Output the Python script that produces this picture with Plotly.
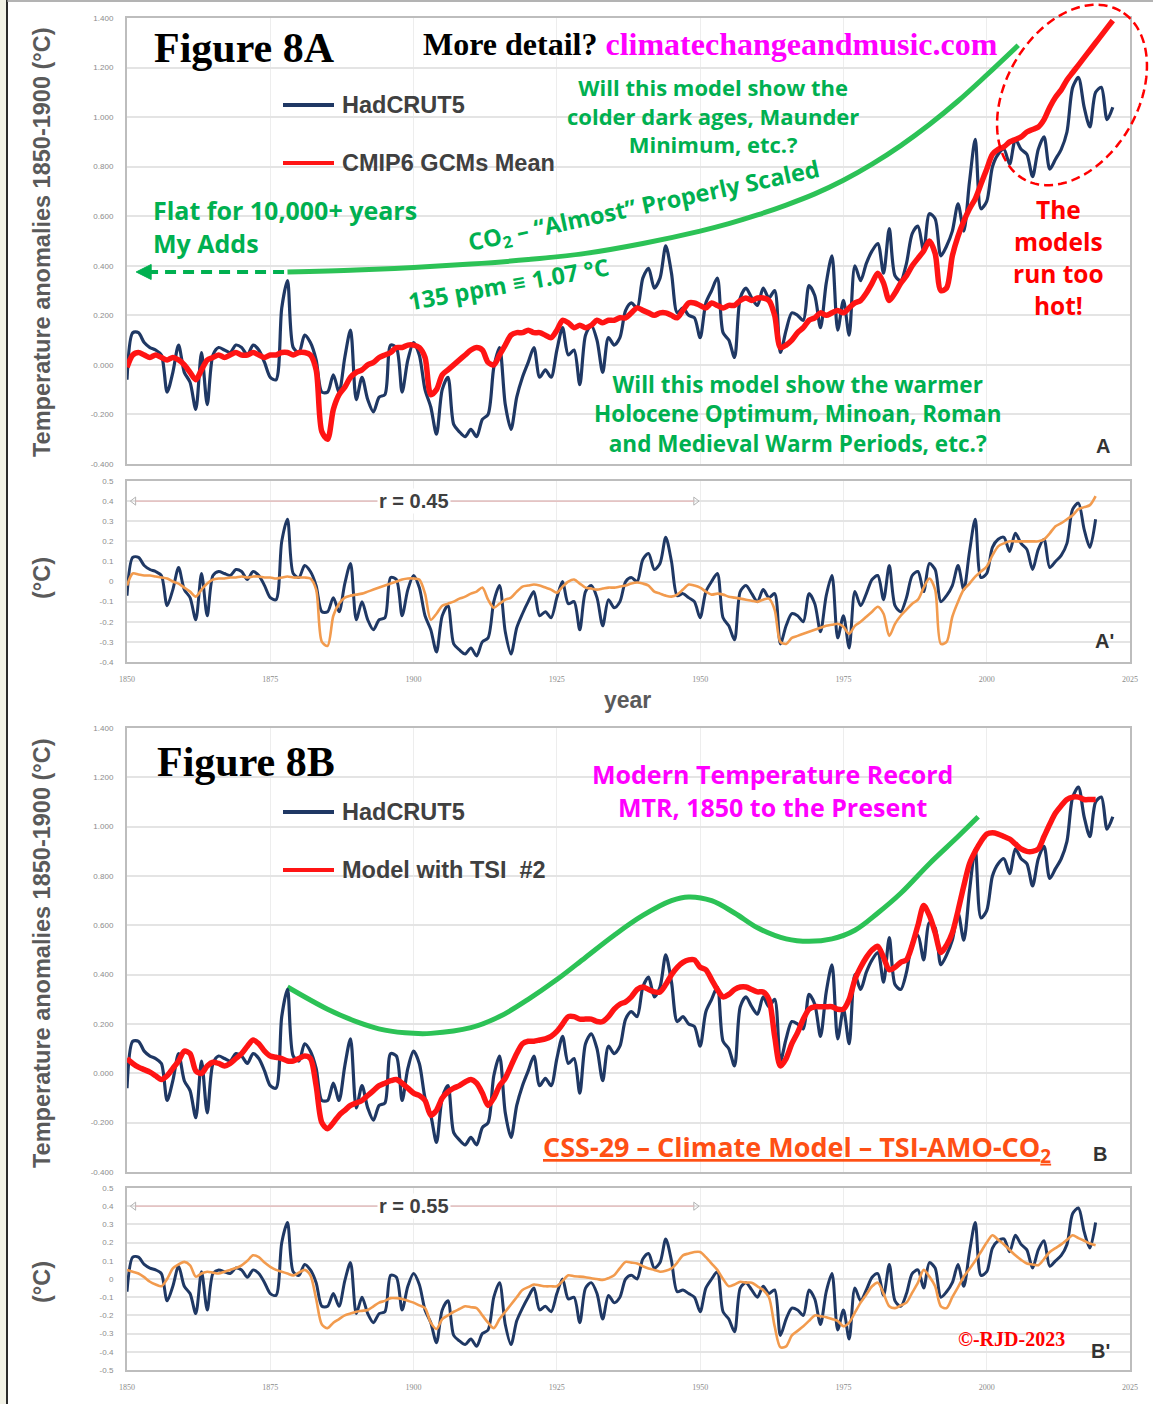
import numpy as np
import plotly.graph_objects as go

# ---------------- data ----------------
years = list(range(1850, 2023))

# HadCRUT5 annual anomalies, relative to 1850-1900 (deg C), 1850-2022
hadcrut5 = [
    -0.06, 0.13, 0.13, 0.09, 0.07, 0.06, 0.04, -0.11, -0.03, 0.08,
    -0.03, -0.07, -0.18, 0.05, -0.16, 0.04, 0.07, 0.06, 0.05, 0.08,
    0.07, 0.04, 0.08, 0.06, 0.01, -0.05, -0.06, 0.23, 0.34, 0.07,
    0.05, 0.12, 0.09, 0.02, -0.11, -0.11, -0.04, -0.11, 0.03, 0.14,
    -0.14, -0.05, -0.14, -0.19, -0.13, -0.12, 0.08, 0.07, -0.11, 0.02,
    0.09, 0.04, -0.10, -0.17, -0.28, -0.10, -0.05, -0.24, -0.27, -0.29,
    -0.26, -0.29, -0.22, -0.20, -0.01, 0.07, -0.16, -0.26, -0.13, -0.05,
    0.01, 0.07, -0.05, -0.02, -0.05, 0.06, 0.15, 0.04, 0.06, -0.08,
    0.12, 0.16, 0.10, -0.03, 0.11, 0.08, 0.11, 0.22, 0.25, 0.23,
    0.35, 0.39, 0.31, 0.35, 0.48, 0.37, 0.21, 0.23, 0.20, 0.19,
    0.11, 0.25, 0.30, 0.35, 0.13, 0.10, 0.03, 0.27, 0.31, 0.27,
    0.24, 0.31, 0.27, 0.30, 0.05, 0.14, 0.21, 0.20, 0.18, 0.32,
    0.28, 0.15, 0.33, 0.44, 0.14, 0.26, 0.12, 0.40, 0.34, 0.41,
    0.46, 0.49, 0.37, 0.55, 0.36, 0.34, 0.41, 0.53, 0.56, 0.46,
    0.61, 0.59, 0.44, 0.48, 0.54, 0.65, 0.54, 0.74, 0.91, 0.63,
    0.66, 0.80, 0.85, 0.87, 0.81, 0.91, 0.87, 0.85, 0.76, 0.87,
    0.92, 0.79, 0.83, 0.87, 0.94, 1.12, 1.16, 1.04, 0.96, 1.10,
    1.12, 0.99, 1.04,
]

# CMIP6 GCMs multi-model mean, 1850-2022
cmip6_mean = [
    -0.01, 0.04, 0.05, 0.04, 0.03, 0.04, 0.03, 0.02, 0.03, 0.02,
    0.00, -0.03, -0.06, -0.02, 0.02, 0.03, 0.04, 0.03, 0.04, 0.05,
    0.04, 0.04, 0.05, 0.04, 0.03, 0.04, 0.04, 0.05, 0.05, 0.04,
    0.05, 0.05, 0.04, -0.02, -0.27, -0.30, -0.18, -0.12, -0.09, -0.05,
    -0.03, -0.02, 0.00, 0.01, 0.03, 0.04, 0.05, 0.07, 0.07, 0.08,
    0.08, 0.07, 0.03, -0.12, -0.10, -0.04, -0.02, 0.00, 0.02, 0.04,
    0.06, 0.07, 0.06, 0.01, 0.00, 0.04, 0.08, 0.12, 0.13, 0.13,
    0.14, 0.13, 0.13, 0.12, 0.11, 0.14, 0.18, 0.17, 0.15, 0.16,
    0.15, 0.16, 0.18, 0.17, 0.18, 0.18, 0.19, 0.19, 0.21, 0.23,
    0.22, 0.21, 0.20, 0.21, 0.21, 0.20, 0.19, 0.22, 0.25, 0.25,
    0.24, 0.23, 0.25, 0.24, 0.23, 0.24, 0.24, 0.26, 0.27, 0.26,
    0.27, 0.27, 0.26, 0.20, 0.07, 0.08, 0.10, 0.13, 0.15, 0.18,
    0.19, 0.21, 0.20, 0.21, 0.22, 0.21, 0.23, 0.25, 0.26, 0.29,
    0.33, 0.37, 0.33, 0.26, 0.29, 0.33, 0.36, 0.40, 0.43, 0.46,
    0.50, 0.45, 0.30, 0.31, 0.44, 0.52, 0.58, 0.63, 0.67, 0.73,
    0.79, 0.85, 0.87, 0.88, 0.90, 0.91, 0.92, 0.94, 0.95, 0.96,
    0.99, 1.04, 1.08, 1.11, 1.15, 1.18, 1.21, 1.24, 1.27, 1.30,
    1.33, 1.36, 1.39,
]

# Model with TSI #2 (CSS-29: TSI-AMO-CO2), 1850-2019
model_tsi2 = [
    0.06, 0.04, 0.025, 0.015, 0.005, -0.01, -0.025, -0.01, 0.02, 0.05,
    0.09, 0.08, 0.01, 0.00, 0.03, 0.045, 0.04, 0.03, 0.04, 0.06,
    0.08, 0.11, 0.135, 0.12, 0.09, 0.07, 0.065, 0.06, 0.05, 0.05,
    0.06, 0.07, 0.06, -0.05, -0.20, -0.225, -0.20, -0.17, -0.15, -0.13,
    -0.12, -0.11, -0.09, -0.07, -0.05, -0.04, -0.03, -0.025, -0.04, -0.06,
    -0.08, -0.09, -0.11, -0.17, -0.15, -0.10, -0.075, -0.06, -0.05, -0.035,
    -0.025, -0.04, -0.08, -0.13, -0.10, -0.05, -0.02, 0.03, 0.08, 0.12,
    0.13, 0.13, 0.135, 0.14, 0.15, 0.17, 0.20, 0.23, 0.23, 0.22,
    0.22, 0.22, 0.21, 0.21, 0.23, 0.26, 0.28, 0.29, 0.31, 0.34,
    0.35, 0.34, 0.33, 0.33, 0.36, 0.40, 0.43, 0.45, 0.46, 0.46,
    0.43, 0.42, 0.38, 0.34, 0.31, 0.32, 0.34, 0.35, 0.35, 0.34,
    0.33, 0.33, 0.30, 0.15, 0.03, 0.06, 0.12, 0.165, 0.22, 0.26,
    0.27, 0.27, 0.27, 0.27, 0.26, 0.26, 0.30, 0.38, 0.43, 0.47,
    0.50, 0.515, 0.47, 0.42, 0.43, 0.45, 0.46, 0.52, 0.60, 0.68,
    0.64, 0.57, 0.49, 0.52, 0.57, 0.66, 0.76, 0.85, 0.90, 0.94,
    0.97, 0.975, 0.97, 0.96, 0.95, 0.93, 0.91, 0.90, 0.90, 0.91,
    0.96, 1.01, 1.055, 1.085, 1.11, 1.12, 1.12, 1.11, 1.11, 1.11,
]

# Detrended residuals used for the correlation panels, 1850-2019
hadcrut5_resid = [
    -0.07, 0.12, 0.12, 0.08, 0.06, 0.05, 0.03, -0.12, -0.04, 0.07,
    -0.04, -0.08, -0.19, 0.04, -0.17, 0.03, 0.05, 0.04, 0.03, 0.06,
    0.05, 0.01, 0.05, 0.03, -0.02, -0.08, -0.09, 0.20, 0.31, 0.04,
    0.02, 0.08, 0.05, -0.02, -0.15, -0.15, -0.08, -0.15, -0.01, 0.09,
    -0.19, -0.10, -0.19, -0.24, -0.19, -0.18, 0.02, 0.01, -0.17, -0.04,
    0.03, -0.03, -0.17, -0.24, -0.35, -0.17, -0.12, -0.31, -0.34, -0.36,
    -0.33, -0.37, -0.30, -0.28, -0.10, -0.02, -0.25, -0.36, -0.23, -0.16,
    -0.10, -0.05, -0.17, -0.15, -0.18, -0.08, 0.00, -0.11, -0.10, -0.24,
    -0.05, -0.02, -0.08, -0.22, -0.09, -0.13, -0.10, 0.00, 0.02, 0.00,
    0.11, 0.14, 0.06, 0.09, 0.22, 0.10, -0.07, -0.06, -0.08, -0.10,
    -0.18, -0.05, 0.00, 0.04, -0.18, -0.22, -0.29, -0.05, -0.02, -0.06,
    -0.10, -0.04, -0.08, -0.06, -0.31, -0.22, -0.16, -0.17, -0.20, -0.06,
    -0.11, -0.25, -0.07, 0.03, -0.28, -0.17, -0.33, -0.05, -0.12, -0.06,
    0.01, 0.03, -0.09, 0.08, -0.12, -0.15, -0.08, 0.03, 0.05, -0.05,
    0.09, 0.06, -0.10, -0.07, -0.02, 0.08, -0.04, 0.15, 0.31, 0.02,
    0.04, 0.17, 0.21, 0.22, 0.15, 0.24, 0.19, 0.16, 0.06, 0.16,
    0.21, 0.07, 0.10, 0.13, 0.19, 0.36, 0.39, 0.26, 0.17, 0.31,
]

cmip6_resid = [
    -0.02, 0.04, 0.035, 0.03, 0.03, 0.025, 0.02, 0.015, 0.00, -0.01,
    -0.03, -0.05, -0.075, -0.04, -0.01, 0.01, 0.015, 0.015, 0.02, 0.02,
    0.025, 0.02, 0.025, 0.025, 0.02, 0.02, 0.015, 0.02, 0.025, 0.02,
    0.02, 0.02, 0.015, -0.04, -0.30, -0.32, -0.17, -0.11, -0.08, -0.07,
    -0.065, -0.06, -0.05, -0.04, -0.03, -0.02, -0.01, 0.00, 0.01, 0.015,
    0.015, 0.01, -0.06, -0.19, -0.16, -0.12, -0.11, -0.10, -0.085, -0.075,
    -0.06, -0.05, -0.03, -0.09, -0.13, -0.11, -0.09, -0.08, -0.05, -0.025,
    -0.02, -0.015, -0.02, -0.03, -0.04, -0.055, -0.025, 0.00, 0.01, -0.01,
    -0.03, -0.035, -0.04, -0.035, -0.03, -0.03, -0.025, -0.02, -0.01, -0.005,
    -0.01, -0.02, -0.05, -0.06, -0.07, -0.075, -0.065, -0.04, -0.015, -0.02,
    -0.03, -0.05, -0.065, -0.06, -0.065, -0.075, -0.08, -0.085, -0.09, -0.095,
    -0.10, -0.09, -0.085, -0.14, -0.30, -0.31, -0.28, -0.27, -0.26, -0.25,
    -0.24, -0.23, -0.22, -0.215, -0.21, -0.225, -0.26, -0.22, -0.20, -0.175,
    -0.15, -0.125, -0.16, -0.27, -0.21, -0.17, -0.14, -0.11, -0.09, -0.03,
    0.015, -0.04, -0.31, -0.30, -0.175, -0.10, -0.04, -0.01, 0.025, 0.05,
    0.075, 0.13, 0.175, 0.19, 0.20, 0.20, 0.20, 0.20, 0.20, 0.20,
    0.21, 0.24, 0.275, 0.29, 0.31, 0.33, 0.36, 0.37, 0.38, 0.425,
]

model_tsi2_resid = [
    0.05, 0.04, 0.03, 0.01, -0.015, -0.03, -0.04, 0.00, 0.058, 0.08,
    0.094, 0.075, 0.013, 0.03, 0.04, 0.035, 0.03, 0.04, 0.05, 0.06,
    0.075, 0.10, 0.13, 0.12, 0.09, 0.067, 0.05, 0.04, 0.03, 0.02,
    0.035, 0.05, 0.02, -0.11, -0.25, -0.27, -0.24, -0.22, -0.20, -0.19,
    -0.18, -0.175, -0.17, -0.15, -0.13, -0.12, -0.105, -0.105, -0.11, -0.12,
    -0.13, -0.145, -0.16, -0.24, -0.275, -0.22, -0.20, -0.18, -0.165, -0.15,
    -0.155, -0.16, -0.20, -0.24, -0.27, -0.22, -0.18, -0.14, -0.10, -0.06,
    -0.045, -0.03, -0.035, -0.04, -0.04, -0.04, -0.01, 0.02, 0.015, 0.013,
    0.01, 0.004, 0.00, -0.005, 0.005, 0.02, 0.06, 0.094, 0.09, 0.085,
    0.07, 0.058, 0.05, 0.04, 0.045, 0.058, 0.09, 0.13, 0.14, 0.148,
    0.148, 0.12, 0.085, 0.05, 0.00, -0.04, -0.03, -0.015, -0.02, -0.02,
    -0.04, -0.06, -0.10, -0.26, -0.375, -0.37, -0.31, -0.285, -0.26, -0.23,
    -0.20, -0.205, -0.21, -0.22, -0.23, -0.26, -0.24, -0.185, -0.13, -0.085,
    -0.04, -0.02, -0.08, -0.15, -0.16, -0.145, -0.13, -0.075, -0.02, 0.05,
    0.013, -0.04, -0.15, -0.16, -0.10, -0.045, 0.013, 0.055, 0.10, 0.15,
    0.20, 0.24, 0.215, 0.19, 0.16, 0.13, 0.105, 0.085, 0.08, 0.076,
    0.11, 0.148, 0.17, 0.19, 0.215, 0.24, 0.225, 0.21, 0.195, 0.185,
]

# Hand-drawn overlay curves
co2_years = [1878, 1890, 1900, 1910, 1920, 1930, 1940, 1950, 1955, 1960,
             1965, 1970, 1975, 1980, 1985, 1990, 1995, 2000, 2005.5]
co2_scaled = [0.375, 0.383, 0.393, 0.407, 0.425, 0.45, 0.49, 0.54, 0.57, 0.605,
              0.645, 0.69, 0.745, 0.81, 0.885, 0.97, 1.065, 1.17, 1.29]

mtr_years = [1878, 1885, 1890, 1895, 1900, 1903, 1910, 1915, 1920, 1925,
             1930, 1935, 1940, 1945, 1948, 1952, 1956, 1960, 1965, 1969,
             1973, 1977, 1981, 1985, 1990, 1995, 1998.5]
mtr_shape = [0.35, 0.26, 0.21, 0.175, 0.162, 0.162, 0.185, 0.23, 0.30, 0.38,
             0.47, 0.56, 0.64, 0.70, 0.715, 0.70, 0.65, 0.59, 0.545, 0.535,
             0.545, 0.58, 0.65, 0.73, 0.85, 0.96, 1.04]

x_ticks = [1850, 1875, 1900, 1925, 1950, 1975, 2000, 2025]
main_ticks = [-0.4, -0.2, 0.0, 0.2, 0.4, 0.6, 0.8, 1.0, 1.2, 1.4]
resid_a_ticks = [-0.4, -0.3, -0.2, -0.1, 0.0, 0.1, 0.2, 0.3, 0.4, 0.5]
resid_b_ticks = [-0.5, -0.4, -0.3, -0.2, -0.1, 0.0, 0.1, 0.2, 0.3, 0.4, 0.5]
r_values = ["0.45", "0.55"]

# ---------------- styling ----------------
W, H = 1153, 1404
ML, MR, MT, MB = 127, 23, 18, 34

NAVY = "#1f3864"
RED = "#ff1414"
ORANGE = "#f29b4e"
GREEN = "#2cc256"
TXT_GREEN = "#00b050"
MAGENTA = "#ff00ff"
GRID = "#e4e4e4"
FRAME = "#bdbdbd"
SANS = "Liberation Sans, Arial, sans-serif"
SERIF = "Liberation Serif, Times New Roman, serif"
ROUND = "Open Sans, Lato, sans-serif"


def px(x):
    return (x - ML) / (W - ML - MR)


def py(y):
    return (H - MB - y) / (H - MT - MB)


def res_label(v):
    return "0" if abs(v) < 1e-9 else f"{v:g}"


fig = go.Figure()

n_res = len(hadcrut5_resid)
yr_res = years[:n_res]
yr_tsi = years[:len(model_tsi2)]


def line_trace(x, y, color, width, xa, ya, smooth=0.8):
    return go.Scatter(x=x, y=y, mode="lines", hoverinfo="skip",
                      line=dict(color=color, width=width, shape="spline", smoothing=smooth),
                      xaxis=xa, yaxis=ya)


# Panel A
fig.add_trace(line_trace(co2_years, co2_scaled, GREEN, 5, "x", "y", 1.0))
fig.add_trace(line_trace(years, hadcrut5, NAVY, 3.2, "x", "y"))
fig.add_trace(line_trace(years, cmip6_mean, RED, 5.5, "x", "y"))
# Panel A'
fig.add_trace(line_trace(yr_res, hadcrut5_resid, NAVY, 3, "x2", "y2"))
fig.add_trace(line_trace(yr_res, cmip6_resid, ORANGE, 2.6, "x2", "y2"))
# Panel B
fig.add_trace(line_trace(mtr_years, mtr_shape, GREEN, 5, "x3", "y3", 1.0))
fig.add_trace(line_trace(years, hadcrut5, NAVY, 3.2, "x3", "y3"))
fig.add_trace(line_trace(yr_tsi, model_tsi2, RED, 5.5, "x3", "y3"))
# Panel B'
fig.add_trace(line_trace(yr_res, hadcrut5_resid, NAVY, 3, "x4", "y4"))
fig.add_trace(line_trace(yr_res, model_tsi2_resid, ORANGE, 2.6, "x4", "y4"))

# arrowheads: the flat-Holocene pointer and the correlation span ends
fig.add_trace(go.Scatter(x=[1851.6], y=[co2_scaled[0]], mode="markers", hoverinfo="skip",
                         marker=dict(symbol="arrow-left", size=15, color="#00b050",
                                     line=dict(color="#00b050", width=1)),
                         xaxis="x", yaxis="y"))
for xa, ya in [("x2", "y2"), ("x4", "y4")]:
    fig.add_trace(go.Scatter(x=[1851.2, 1949.2], y=[0.4, 0.4], mode="markers", hoverinfo="skip",
                             marker=dict(symbol=["triangle-left-open", "triangle-right-open"], size=7,
                                         color="#b3b3b3", line=dict(width=1)),
                             xaxis=xa, yaxis=ya))

tick_font = dict(family=SERIF, size=8, color="#8c8c8c")
ytick_font = dict(family=SANS, size=8, color="#8c8c8c")


def xax(anchor, show):
    return dict(domain=[0, 1], anchor=anchor, range=[1850, 2025], tickvals=x_ticks,
                showticklabels=show, ticks="", tickfont=tick_font, ticklabelstandoff=8,
                showgrid=True, gridcolor="#ededed", gridwidth=1, zeroline=False,
                showline=True, linecolor=FRAME, linewidth=2, mirror=True)


def yax(anchor, dom, rng, vals, text):
    return dict(domain=dom, anchor=anchor, range=rng, tickvals=vals, ticktext=text,
                ticks="", tickfont=ytick_font, ticklabelstandoff=10,
                showgrid=True, gridcolor=GRID, gridwidth=1.5, zeroline=False,
                showline=True, linecolor=FRAME, linewidth=2, mirror=True)


main_text = [f"{v:.3f}" for v in main_ticks]

fig.update_layout(
    width=W, height=H,
    margin=dict(l=ML, r=MR, t=MT, b=MB),
    paper_bgcolor="white", plot_bgcolor="white",
    showlegend=False,
    xaxis=xax("y", False),
    xaxis2=xax("y2", True),
    xaxis3=xax("y3", False),
    xaxis4=xax("y4", True),
    yaxis=yax("x", [py(464), py(18)], [-0.4, 1.4], main_ticks, main_text),
    yaxis2=yax("x2", [py(662), py(481)], [-0.4, 0.5], resid_a_ticks, [res_label(v) for v in resid_a_ticks]),
    yaxis3=yax("x3", [py(1172), py(728)], [-0.4, 1.4], main_ticks, main_text),
    yaxis4=yax("x4", [py(1370), py(1188)], [-0.5, 0.5], resid_b_ticks, [res_label(v) for v in resid_b_ticks]),
)

shapes = []
ann = []


def text(x, y, s, size, color, family=ROUND, bold=True, anchor="center", angle=0, align="center"):
    if isinstance(s, (list, tuple)):
        body = "<br>".join(f"<b>{part}</b>" if bold else part for part in s)
    else:
        body = f"<b>{s}</b>" if bold else s
    ann.append(dict(xref="paper", yref="paper", x=px(x), y=py(y), text=body, align=align,
                    showarrow=False, xanchor=anchor, yanchor="middle", textangle=angle,
                    font=dict(family=family, size=size, color=color)))


# page border
shapes.append(dict(type="rect", xref="paper", yref="paper", x0=px(0), x1=px(6), y0=py(1404), y1=py(0),
                   fillcolor="#f2f2e6", line=dict(width=0), layer="below"))
shapes.append(dict(type="line", xref="paper", yref="paper", x0=px(7), x1=px(7), y0=py(1404), y1=py(0),
                   line=dict(color="#2b2b2b", width=2)))
shapes.append(dict(type="line", xref="paper", yref="paper", x0=px(7), x1=px(1153), y0=py(1), y1=py(1),
                   line=dict(color="#9a9a9a", width=1.5)))

# axis titles
for yc, s in [(242, "Temperature anomalies 1850-1900 (°C)"), (578, "(°C)"),
              (953, "Temperature anomalies 1850-1900 (°C)"), (1282, "(°C)")]:
    text(42, yc, s, 23.5, "#5a5a5a", family=SANS, angle=-90)
text(627, 700, "year", 23, "#5a5a5a", family=SANS)

# titles
text(152, 48, "Figure 8A", 42, "black", family=SERIF, anchor="left")
text(155, 762, "Figure 8B", 42, "black", family=SERIF, anchor="left")
text(421, 44, "More detail? <span style='color:#ff00ff'>climatechangeandmusic.com</span>", 32, "black",
     family=SERIF, anchor="left")

# legends
for yc, col, lab in [(105, NAVY, "HadCRUT5"), (163, RED, "CMIP6 GCMs Mean"),
                     (812, NAVY, "HadCRUT5"), (870, RED, "Model with TSI  #2")]:
    shapes.append(dict(type="line", xref="paper", yref="paper", x0=px(283), x1=px(334), y0=py(yc), y1=py(yc),
                       line=dict(color=col, width=4)))
    text(340, yc, lab, 23.5, "#404040", family=SANS, anchor="left")

# panel letters
text(1103, 446, "A", 20, "#333333", family=SANS)
text(1104, 641, "A'", 20, "#333333", family=SANS)
text(1100, 1154, "B", 20, "#333333", family=SANS)
text(1100, 1351, "B'", 20, "#333333", family=SANS)

# green annotations on panel A
text(713, 116, ["Will this model show the", "colder dark ages, Maunder", "Minimum, etc.?"], 22, TXT_GREEN)
text(151, 226, ["Flat for 10,000+ years", "My Adds"], 25, TXT_GREEN, anchor="left", align="left")
text(644, 207, "CO<sub>2</sub> – “Almost” Properly Scaled", 23.5, TXT_GREEN, angle=-12)
text(508, 284, "135 ppm ≡ 1.07 °C", 23.5, TXT_GREEN, angle=-10)
text(797, 414, ["Will this model show the warmer", "Holocene Optimum, Minoan, Roman",
                "and Medieval Warm Periods, etc.?"], 22.5, TXT_GREEN)
text(1058, 257, ["The", "models", "run too", "hot!"], 24.5, "#ff0000")

# dashed ellipse around the recent model/observation divergence
t = np.linspace(0, 2 * np.pi, 120)
cx, cy, a, b, th = 1072, 95, 97, 66, np.radians(60)
ex = cx + a * np.cos(t) * np.cos(th) - b * np.sin(t) * np.sin(th)
ey = cy - (a * np.cos(t) * np.sin(th) + b * np.sin(t) * np.cos(th))
path = "M " + " L ".join(f"{px(u):.5f},{py(v):.5f}" for u, v in zip(ex, ey)) + " Z"
shapes.append(dict(type="path", xref="paper", yref="paper", path=path,
                   line=dict(color="#ff0000", width=2.5, dash="9px,5px")))

# dashed "flat" extension of the CO2 curve back in time
shapes.append(dict(type="line", xref="x", yref="y", x0=1853.5, x1=co2_years[0], y0=co2_scaled[0], y1=co2_scaled[0],
                   line=dict(color="#00b050", width=4, dash="11px,7px")))

# panel B annotations
text(772, 791, ["Modern Temperature Record", "MTR, 1850 to the Present"], 25, MAGENTA)
text(797, 1148, "<u>CSS-29 – Climate Model – TSI-AMO-CO<sub>2</sub></u>", 27, "#ff5014")
text(1011, 1339, "©-RJD-2023", 20, "#ff0000", family=SERIF)

# correlation span markers on the residual panels
for xa, ya, r in [("x2", "y2", r_values[0]), ("x4", "y4", r_values[1])]:
    shapes.append(dict(type="line", xref=xa, yref=ya, x0=1851.5, x1=1948.9, y0=0.4, y1=0.4,
                       line=dict(color="#e6b9b9", width=1.2)))
    ann.append(dict(xref=xa, yref=ya, x=1900, y=0.4, text=f"<b>r = {r}</b>", showarrow=False,
                    bgcolor="white", borderpad=1, font=dict(family=SANS, size=20, color="#404040")))

fig.update_layout(shapes=shapes, annotations=ann)
fig.write_html("out.html")
